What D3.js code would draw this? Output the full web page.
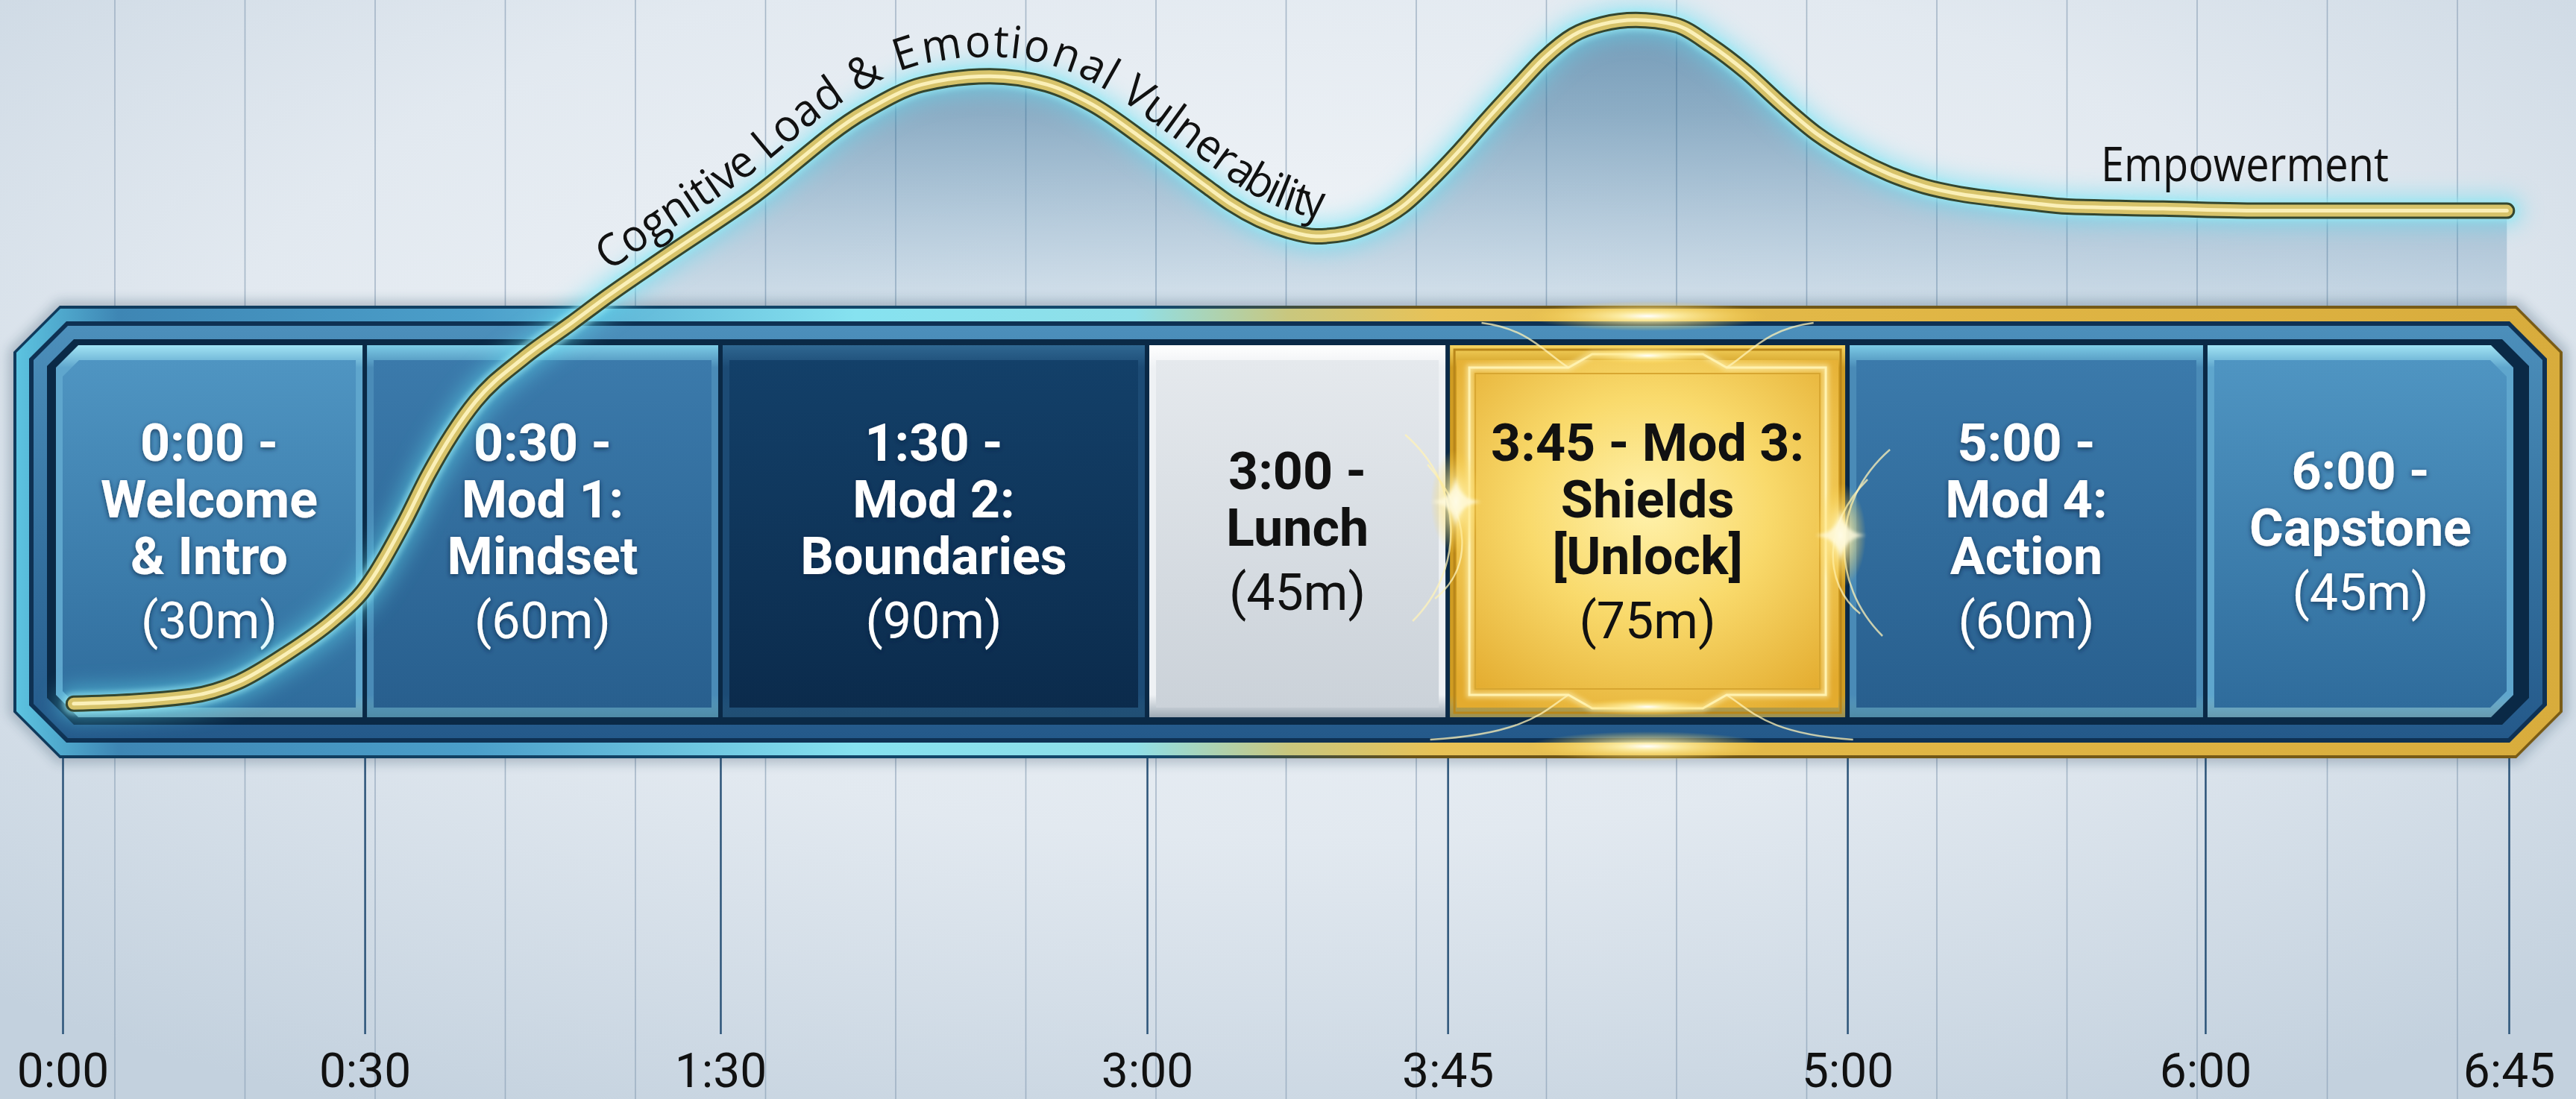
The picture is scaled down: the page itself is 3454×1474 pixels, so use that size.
<!DOCTYPE html>
<html>
<head>
<meta charset="utf-8">
<script src="https://cdn.jsdelivr.net/npm/d3@7"></script>
<style>
  html, body { margin: 0; padding: 0; background: #dfe7ef; overflow: hidden; }
</style>
</head>
<body>
<div id="chart"></div>
<script>
// ---- data ----
const sessionStarts = [0, 30, 90, 180, 225, 300, 360];
const sessionDurations = [30, 60, 90, 45, 75, 60, 45];
const sessionKinds = ["open", "module", "deep", "break", "unlock", "module", "close"];
const sessionLines = [
  ["0:00 -", "Welcome", "& Intro"],
  ["0:30 -", "Mod 1:", "Mindset"],
  ["1:30 -", "Mod 2:", "Boundaries"],
  ["3:00 -", "Lunch"],
  ["3:45 - Mod 3:", "Shields", "[Unlock]"],
  ["5:00 -", "Mod 4:", "Action"],
  ["6:00 -", "Capstone"]
];
const tickMinutes = [0, 30, 90, 180, 225, 300, 360, 405];
const tickLabels = ["0:00", "0:30", "1:30", "3:00", "3:45", "5:00", "6:00", "6:45"];

// cognitive load curve (minutes, relative load 0-100)
const curveMinutes = [1.1, 12.7, 17.4, 22.1, 26.8, 29.7, 36.7, 40.7, 48.7, 56.8, 64.7, 71.0, 80.5, 96.3,
  120.4, 132.5, 146.8, 158.9, 168.5, 180.4, 188.9, 192.5, 201.1, 205.3, 209.6, 213.8, 218.2, 222.4,
  227.1, 232.4, 237.9, 243.2, 248.5, 254.0, 260.3, 267.7, 274.3, 281.0, 287.7, 294.4, 301.0, 307.0,
  313.0, 318.9, 324.9, 330.9, 336.9, 352.9, 369.4, 404.7];
const curveLoad = [1.2, 2.3, 4.3, 8.3, 13.2, 17.2, 27.4, 34.2, 44.8, 51.1, 56.0, 60.0, 65.6, 74.0,
  86.6, 90.5, 91.7, 90.5, 87.6, 81.9, 75.8, 73.3, 69.4, 68.6, 69.0, 70.4, 72.9, 76.6,
  80.9, 85.5, 90.1, 94.4, 97.6, 99.2, 99.8, 99.1, 96.2, 92.3, 87.6, 83.3, 80.1, 77.6,
  75.8, 74.7, 74.0, 73.4, 72.9, 72.6, 72.3, 72.3];
const curveTitle = "Cognitive Load & Emotional Vulnerability";
const endLabel = "Empowerment";

// ---- setup ----
const W = 3454, H = 1474;
const svg = d3.select("#chart").append("svg")
  .attr("width", W).attr("height", H)
  .attr("viewBox", `0 0 ${W} ${H}`);
const defs = svg.append("defs");

function addLinear(id, stops, o = {}) {
  const g = defs.append("linearGradient").attr("id", id)
    .attr("x1", o.x1 ?? 0).attr("y1", o.y1 ?? 0)
    .attr("x2", o.x2 ?? 0).attr("y2", o.y2 ?? 1);
  if (o.units) g.attr("gradientUnits", o.units);
  stops.forEach(([off, col, op]) =>
    g.append("stop").attr("offset", off).attr("stop-color", col).attr("stop-opacity", op ?? 1));
}
function addRadial(id, stops, o = {}) {
  const g = defs.append("radialGradient").attr("id", id)
    .attr("cx", o.cx ?? 0.5).attr("cy", o.cy ?? 0.5).attr("r", o.r ?? 0.5);
  stops.forEach(([off, col, op]) =>
    g.append("stop").attr("offset", off).attr("stop-color", col).attr("stop-opacity", op ?? 1));
}
function addBlur(id, sd) {
  defs.append("filter").attr("id", id)
    .attr("x", "-50%").attr("y", "-50%").attr("width", "200%").attr("height", "200%")
    .append("feGaussianBlur").attr("stdDeviation", sd);
}
addBlur("blur2", 2);
addBlur("blur3", 3);
addBlur("blur8", 8);
addBlur("blur14", 14);
const shadow = defs.append("filter").attr("id", "textShadow")
  .attr("x", "-20%").attr("y", "-20%").attr("width", "140%").attr("height", "140%");
shadow.append("feDropShadow").attr("dx", 0).attr("dy", 2).attr("stdDeviation", 3)
  .attr("flood-color", "#07233f").attr("flood-opacity", 0.75);

// ---- scales ----
// the timeline is drawn with uneven slot widths, so the axis is piecewise linear
const axisLeft = 84, axisRight = 3364;
const slotStops = [0, 0.1235, 0.2689, 0.4433, 0.5662, 0.7296, 0.8759, 1];
const xScale = d3.scaleLinear()
  .domain(tickMinutes)
  .range(slotStops.map(f => axisLeft + f * (axisRight - axisLeft)));
const yScale = d3.scaleLinear().domain([0, 100]).range([955, 25]);

// ---- background ----
addRadial("bgGrad", [[0, "#f3f6f9"], [0.55, "#e2e9f0"], [1, "#c3d1de"]], { cx: 0.5, cy: 0.35, r: 0.75 });
svg.append("rect").attr("width", W).attr("height", H).attr("fill", "url(#bgGrad)");

const grid = svg.append("g").attr("class", "grid");
grid.selectAll("line.v").data(d3.range(154, 3420, 174.5)).join("line")
  .attr("class", "v")
  .attr("x1", d => d).attr("x2", d => d).attr("y1", 0).attr("y2", H)
  .attr("stroke", "#8ea3b8").attr("stroke-width", 1.6).attr("opacity", 0.7);
grid.selectAll("line.h").data(d3.range(97, 1400, 170)).join("line")
  .attr("class", "h")
  .attr("x1", 26).attr("x2", 3420).attr("y1", d => d).attr("y2", d => d)
  .attr("stroke", "#7f90a4").attr("stroke-width", 4).attr("opacity", 0.55)
  .attr("filter", "url(#blur3)");

// ---- curve shapes ----
const curvePoints = curveMinutes.map((m, i) => [m, curveLoad[i]]);
const line = d3.line().x(d => xScale(d[0])).y(d => yScale(d[1])).curve(d3.curveMonotoneX);
const area = d3.area().x(d => xScale(d[0])).y0(420).y1(d => yScale(d[1])).curve(d3.curveMonotoneX);

addLinear("areaGrad", [[0, "#1f5e8c", 0.58], [0.33, "#22628f", 0.46], [0.7, "#2b6b9a", 0.27], [1, "#3a7aa8", 0.14]],
  { x1: 0, y1: 20, x2: 0, y2: 420, units: "userSpaceOnUse" });
svg.append("path").datum(curvePoints).attr("d", area).attr("fill", "url(#areaGrad)");

// ---- axis ----
const frame = { x0: 18, y0: 410, x1: 3436, y1: 1017 };
const axis = d3.axisBottom(xScale)
  .tickValues(tickMinutes)
  .tickFormat((d, i) => tickLabels[i])
  .tickSize(370)
  .tickPadding(26);
const axisG = svg.append("g")
  .attr("transform", `translate(0, ${frame.y1})`)
  .call(axis)
  .attr("font-family", "Roboto, 'Liberation Sans', sans-serif")
  .attr("font-size", 64);
axisG.select(".domain").remove();
axisG.selectAll(".tick line").attr("stroke", "#2b5378").attr("stroke-width", 2.5);
axisG.selectAll(".tick text").attr("fill", "#111");

// ---- frame ----
function octagon(x0, y0, x1, y1, c) {
  return `M${x0 + c},${y0}H${x1 - c}L${x1},${y0 + c}V${y1 - c}L${x1 - c},${y1}H${x0 + c}L${x0},${y1 - c}V${y0 + c}Z`;
}
function frameLayer(inset, c) {
  return octagon(frame.x0 + inset, frame.y0 + inset, frame.x1 - inset, frame.y1 - inset, c);
}
addLinear("edgeGrad", [[0, "#0f3a5c"], [0.45, "#13496c"], [0.55, "#6b5418"], [1, "#7a5c16"]], { x2: 1, y2: 0 });
addLinear("bandGrad", [[0, "#5cc3e0"], [0.04, "#3e86b4"], [0.18, "#4b9fca"], [0.33, "#86e2f0"],
  [0.44, "#8fdfe8"], [0.5, "#c9c77e"], [0.56, "#e8c256"], [0.7, "#e2b847"], [1, "#d8ac3c"]], { x2: 1, y2: 0 });
addLinear("innerBand", [[0, "#4c8fbb"], [0.5, "#3674a2"], [1, "#24598a"]]);

const frameG = svg.append("g");
frameG.append("path").attr("d", frameLayer(-6, 66)).attr("fill", "#0b2a44").attr("opacity", 0.25)
  .attr("filter", "url(#blur8)");
frameG.append("path").attr("d", frameLayer(0, 62)).attr("fill", "url(#edgeGrad)");
frameG.append("path").attr("d", frameLayer(4, 59)).attr("fill", "url(#bandGrad)");
frameG.append("path").attr("d", frameLayer(21, 50)).attr("fill", "#0e3153");
frameG.append("path").attr("d", frameLayer(27, 46)).attr("fill", "url(#innerBand)");
frameG.append("path").attr("d", frameLayer(45, 36)).attr("fill", "#0a2946");

// ---- session cells ----
const kindStyle = {
  open:   { bevelTop: "#a2e4f4", bevel: "#5fa6cd", faceTop: "#4f95c2", faceBot: "#2f6c9c", text: "#ffffff" },
  module: { bevelTop: "#7ccbe6", bevel: "#4a8bb7", faceTop: "#3b7aab", faceBot: "#285f8e", text: "#ffffff" },
  deep:   { bevelTop: "#2f6791", bevel: "#1c4b75", faceTop: "#134069", faceBot: "#0b2b4c", text: "#ffffff" },
  break:  { bevelTop: "#ffffff", bevel: "#eef1f4", faceTop: "#e5e9ed", faceBot: "#cbd2d9", text: "#111111" },
  unlock: { bevelTop: "#f6d460", bevel: "#cf9c22", faceTop: "#f7d660", faceBot: "#e2ae32", text: "#111111" },
  close:  { bevelTop: "#a2e4f4", bevel: "#5fa6cd", faceTop: "#4f95c2", faceBot: "#2f6c9c", text: "#ffffff" }
};
Object.entries(kindStyle).forEach(([k, s]) => {
  addLinear(`bevel-${k}`, [[0, s.bevelTop], [0.06, s.bevel], [0.94, s.bevel], [1, s.bevelTop, 0.6]]);
  addLinear(`face-${k}`, [[0, s.faceTop], [1, s.faceBot]]);
});
addRadial("face-gold", [[0, "#fff2ad"], [0.45, "#f9da6c"], [1, "#e3ab2e"]], { cx: 0.5, cy: 0.42, r: 0.7 });

const sessions = sessionStarts.map((s, i) => ({
  start: s, dur: sessionDurations[i], kind: sessionKinds[i], lines: sessionLines[i], i
}));
const cellTop = 463, cellBot = 962, gap = 3;
const innerLeft = frame.x0 + 57, innerRight = frame.x1 - 66;
const n = sessions.length;

function cellShape(x0, y0, x1, y1, cl, cr) {
  return `M${x0 + cl},${y0}H${x1 - cr}L${x1},${y0 + cr}V${y1 - cr}L${x1 - cr},${y1}H${x0 + cl}L${x0},${y1 - cl}V${y0 + cl}Z`;
}
sessions.forEach(d => {
  d.x0 = d.i === 0 ? innerLeft : xScale(d.start) + gap;
  d.x1 = d.i === n - 1 ? innerRight : xScale(d.start + d.dur) - gap;
  d.cl = d.i === 0 ? 30 : 0;
  d.cr = d.i === n - 1 ? 30 : 0;
});

const cells = svg.append("g").selectAll("g.cell").data(sessions).join("g").attr("class", "cell");
cells.append("path")
  .attr("d", d => cellShape(d.x0, cellTop, d.x1, cellBot, d.cl, d.cr))
  .attr("fill", d => `url(#bevel-${d.kind})`);
cells.append("path")
  .attr("d", d => cellShape(d.x0 + 9, cellTop + 20, d.x1 - 9, cellBot - 13,
    Math.max(d.cl - 8, 0), Math.max(d.cr - 8, 0)))
  .attr("fill", d => d.kind === "unlock" ? "url(#face-gold)" : `url(#face-${d.kind})`);

// gold cell ornaments
const gold = sessions.find(d => d.kind === "unlock");
const goldG = svg.append("g");
{
  const { x0, x1 } = gold, y0 = cellTop, y1 = cellBot, w = x1 - x0;
  goldG.append("rect").attr("x", x0 + 6).attr("y", y0 + 6).attr("width", w - 12).attr("height", y1 - y0 - 12)
    .attr("fill", "none").attr("stroke", "#b8861a").attr("stroke-width", 3);
  const orn = `M${x0 + 26},${y0 + 30}H${x0 + 0.3 * w}L${x0 + 0.36 * w},${y0 + 12}H${x1 - 0.36 * w}L${x1 - 0.3 * w},${y0 + 30}H${x1 - 26}` +
    `V${y1 - 30}H${x1 - 0.3 * w}L${x1 - 0.36 * w},${y1 - 12}H${x0 + 0.36 * w}L${x0 + 0.3 * w},${y1 - 30}H${x0 + 26}Z`;
  goldG.append("path").attr("d", orn).attr("fill", "none").attr("stroke", "#fff6c0")
    .attr("stroke-width", 8).attr("opacity", 0.6).attr("filter", "url(#blur3)");
  goldG.append("path").attr("d", orn).attr("fill", "none").attr("stroke", "#fff2b0").attr("stroke-width", 3);
  goldG.append("rect").attr("x", x0 + 34).attr("y", y0 + 38).attr("width", w - 68).attr("height", y1 - y0 - 76)
    .attr("fill", "none").attr("stroke", "#d7a631").attr("stroke-width", 2);

  // glowing curls reaching into the frame
  const curls = [
    `M${x0 + 0.3 * w},${y0 + 30}C${x0 + 0.24 * w},${y0 + 10} ${x0 + 0.2 * w},${y0 - 22} ${x0 + 0.08 * w},${y0 - 30}`,
    `M${x1 - 0.3 * w},${y0 + 30}C${x1 - 0.24 * w},${y0 + 10} ${x1 - 0.2 * w},${y0 - 22} ${x1 - 0.08 * w},${y0 - 30}`,
    `M${x0 + 0.3 * w},${y1 - 30}C${x0 + 0.24 * w},${y1 - 10} ${x0 + 0.2 * w},${y1 + 22} ${x0 - 0.05 * w},${y1 + 30}`,
    `M${x1 - 0.3 * w},${y1 - 30}C${x1 - 0.24 * w},${y1 - 10} ${x1 - 0.2 * w},${y1 + 22} ${x1 + 0.02 * w},${y1 + 30}`,
    `M${x0 - 60},${y0 + 120}C${x0 + 20},${y0 + 190} ${x0 + 20},${y0 + 300} ${x0 - 50},${y0 + 370}`,
    `M${x0 - 30},${y0 + 160}C${x0 + 30},${y0 + 230} ${x0 + 30},${y0 + 300} ${x0 - 20},${y0 + 340}`,
    `M${x1 + 60},${y0 + 140}C${x1 - 20},${y0 + 210} ${x1 - 20},${y0 + 320} ${x1 + 50},${y0 + 390}`,
    `M${x1 + 30},${y0 + 180}C${x1 - 30},${y0 + 240} ${x1 - 30},${y0 + 320} ${x1 + 20},${y0 + 360}`
  ];
  goldG.selectAll("path.curl").data(curls).join("path").attr("class", "curl")
    .attr("d", d => d).attr("fill", "none").attr("stroke", "#fff3b8")
    .attr("stroke-width", 2.5).attr("opacity", 0.75);

  // sparkles / flares
  addRadial("flare", [[0, "#ffffff"], [0.25, "#fff3b0", 0.85], [1, "#ffd54a", 0]]);
  const flares = [
    [x0 + 0.5 * w, frame.y0 + 14, 160, 20],
    [x0 + 0.5 * w, frame.y1 - 16, 160, 20],
    [x0 + 8, y0 + 210, 34, 70],
    [x1 - 6, y0 + 255, 34, 70],
    [x0 + 0.5 * w, y0 + 14, 90, 12],
    [x0 + 0.5 * w, y1 - 14, 90, 12]
  ];
  goldG.selectAll("ellipse.flare").data(flares).join("ellipse").attr("class", "flare")
    .attr("cx", d => d[0]).attr("cy", d => d[1]).attr("rx", d => d[2]).attr("ry", d => d[3])
    .attr("fill", "url(#flare)");
  const star = (cx, cy, r) => `M${cx},${cy - r}Q${cx + 3},${cy - 3} ${cx + r},${cy}Q${cx + 3},${cy + 3} ${cx},${cy + r}Q${cx - 3},${cy + 3} ${cx - r},${cy}Q${cx - 3},${cy - 3} ${cx},${cy - r}Z`;
  goldG.selectAll("path.star").data([[x0 + 8, y0 + 210, 34], [x1 - 6, y0 + 255, 34]])
    .join("path").attr("class", "star")
    .attr("d", d => star(d[0], d[1], d[2])).attr("fill", "#fffbe0").attr("opacity", 0.8)
    .attr("filter", "url(#blur2)");
}

// cell labels
const boldStep = 76, durStep = 86, fs = 70;
const labels = svg.append("g").attr("font-family", "Roboto, 'Liberation Sans', sans-serif").attr("text-anchor", "middle");
sessions.forEach(d => {
  const rows = d.lines.length;
  const total = (rows - 1) * boldStep + durStep;
  const first = (cellTop + cellBot) / 2 - total / 2;
  const cx = (d.x0 + d.x1) / 2;
  const color = kindStyle[d.kind].text;
  const g = labels.append("g").attr("fill", color)
    .attr("filter", color === "#ffffff" ? "url(#textShadow)" : null);
  d.lines.forEach((t, j) => {
    g.append("text").attr("x", cx).attr("y", first + j * boldStep + fs * 0.355)
      .attr("font-size", fs).attr("font-weight", 700).text(t);
  });
  g.append("text").attr("x", cx).attr("y", first + (rows - 1) * boldStep + durStep + fs * 0.355)
    .attr("font-size", 68).attr("font-weight", 400).text(`(${d.dur}m)`);
});

// ---- load curve ----
const curveG = svg.append("g").attr("fill", "none").attr("stroke-linecap", "round");
curveG.append("path").datum(curvePoints).attr("d", line)
  .attr("stroke", "#62def2").attr("stroke-width", 44).attr("opacity", 0.5).attr("filter", "url(#blur14)");
curveG.append("path").datum(curvePoints).attr("d", line)
  .attr("stroke", "#9cecf6").attr("stroke-width", 30).attr("opacity", 0.55).attr("filter", "url(#blur3)");
curveG.append("path").datum(curvePoints).attr("d", line)
  .attr("stroke", "#34462f").attr("stroke-width", 22);
curveG.append("path").datum(curvePoints).attr("d", line)
  .attr("stroke", "#d7c36a").attr("stroke-width", 16);
const mainCurve = curveG.append("path").datum(curvePoints).attr("d", line)
  .attr("id", "loadCurve")
  .attr("stroke", "#fbf0b8").attr("stroke-width", 5);

// curve label along the path
const node = mainCurve.node();
const totalLen = node.getTotalLength();
function lengthAtX(x) {
  let lo = 0, hi = totalLen;
  for (let k = 0; k < 40; k++) {
    const mid = (lo + hi) / 2;
    if (node.getPointAtLength(mid).x < x) lo = mid; else hi = mid;
  }
  return lo;
}
const labelSpan = [73, 206];
const s0 = lengthAtX(xScale(labelSpan[0])), s1 = lengthAtX(xScale(labelSpan[1]));
svg.append("text")
  .attr("font-family", "'Open Sans', 'DejaVu Sans', sans-serif")
  .attr("font-size", 60).attr("fill", "#111").attr("dy", -26)
  .append("textPath")
  .attr("href", "#loadCurve")
  .attr("startOffset", s0)
  .attr("textLength", s1 - s0)
  .attr("lengthAdjust", "spacingAndGlyphs")
  .text(curveTitle);

svg.append("text")
  .attr("x", xScale(342.5))
  .attr("y", yScale(curveLoad[curveLoad.length - 1]) - 40)
  .attr("font-family", "'Open Sans', 'DejaVu Sans', sans-serif")
  .attr("font-size", 64).attr("fill", "#111")
  .attr("textLength", 386).attr("lengthAdjust", "spacingAndGlyphs")
  .text(endLabel);
</script>
</body>
</html>
